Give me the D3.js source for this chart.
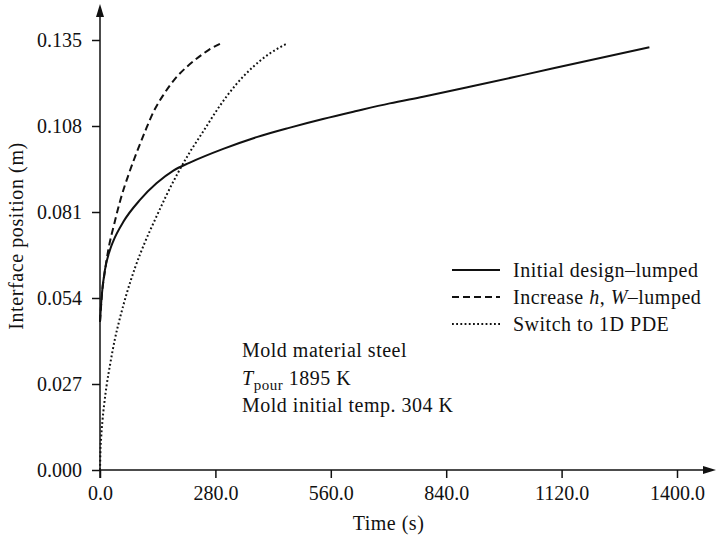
<!DOCTYPE html>
<html>
<head>
<meta charset="utf-8">
<script src="https://cdn.jsdelivr.net/npm/d3@7"></script>
<style>
  body { margin: 0; background: #fff; }
  svg text { font-family: "Liberation Serif", "Times New Roman", serif; fill: #111; }
</style>
</head>
<body>
<svg id="chart" width="717" height="539"></svg>
<script>
// Time (s) and interface position (m)
const timeLumped   = [0, 4, 12, 24, 32, 57, 97, 137, 178, 218, 299, 380, 461, 541, 622, 703, 784, 897, 1100, 1333]
const posLumped    = [0.0465, 0.0544, 0.0628, 0.069, 0.0718, 0.078, 0.0848, 0.090, 0.094, 0.0965, 0.1008, 0.1045, 0.1075, 0.1102, 0.1127, 0.1151, 0.1172, 0.1203, 0.1261, 0.1327]

const timeIncrease = [0, 5, 12, 20, 35, 50, 70, 90, 110, 130, 155, 180, 210, 240, 265, 291]
const posIncrease  = [0.0465, 0.0555, 0.0625, 0.069, 0.0775, 0.085, 0.093, 0.100, 0.1065, 0.1125, 0.118, 0.1225, 0.1265, 0.1297, 0.132, 0.1338]

const timePDE      = [0, 1, 3, 6, 10, 16, 25, 36, 50, 65, 85, 109, 135, 161, 190, 218, 250, 290, 330, 370, 410, 451]
const posPDE       = [0, 0.0055, 0.0105, 0.0155, 0.0205, 0.0265, 0.0335, 0.041, 0.0485, 0.0555, 0.0635, 0.0715, 0.079, 0.0862, 0.0935, 0.0998, 0.1062, 0.1142, 0.121, 0.1264, 0.1306, 0.1337]

const xTicks = [0, 280, 560, 840, 1120, 1400]
const yTicks = [0, 0.027, 0.054, 0.081, 0.108, 0.135]

const seriesNames = ["Initial design\u2013lumped", "Increase h, W\u2013lumped", "Switch to 1D PDE"]
const noteLines   = ["Mold material steel", "T pour 1895 K", "Mold initial temp. 304 K"]

const svg = d3.select("#chart")

const x = d3.scaleLinear().domain([0, 1400]).range([100, 677])
const y = d3.scaleLinear().domain([0, 0.135]).range([470, 40])

// axes: ticks from d3, axis lines drawn by hand so they can run out to the arrows
const xAxis = svg.append("g")
	.attr("transform", "translate(0,470)")
	.call(d3.axisBottom(x).tickValues(xTicks).tickFormat(d3.format(".1f")).tickSize(8).tickPadding(8))
xAxis.select(".domain").remove()
xAxis.selectAll("line").attr("stroke", "#111").attr("stroke-width", 1.5)
xAxis.selectAll("text").style("font-size", "20px").attr("fill", "#111")

const yAxis = svg.append("g")
	.attr("transform", "translate(100,0)")
	.call(d3.axisLeft(y).tickValues(yTicks).tickFormat(d3.format(".3f")).tickSize(8).tickPadding(10))
yAxis.select(".domain").remove()
yAxis.selectAll("line").attr("stroke", "#111").attr("stroke-width", 1.5)
yAxis.selectAll("text").style("font-size", "20px").attr("fill", "#111")

svg.append("line").attr("x1", 100).attr("x2", 706).attr("y1", 470).attr("y2", 470)
	.attr("stroke", "#111").attr("stroke-width", 1.5)
svg.append("line").attr("x1", 100).attr("x2", 100).attr("y1", 478).attr("y2", 16)
	.attr("stroke", "#111").attr("stroke-width", 1.5)
svg.append("path").attr("d", "M716,470 L703,466 L703,474 Z").attr("fill", "#111")
svg.append("path").attr("d", "M100,4 L96,17 L104,17 Z").attr("fill", "#111")

// axis titles
svg.append("text")
	.attr("x", 388.5).attr("y", 530)
	.attr("text-anchor", "middle")
	.style("font-size", "20px").style("letter-spacing", "0.5px")
	.text("Time (s)")

svg.append("text")
	.attr("transform", "translate(23,236) rotate(-90)")
	.attr("text-anchor", "middle")
	.style("font-size", "20px").style("letter-spacing", "0.6px")
	.text("Interface position (m)")

// curves
const line = d3.line()
	.x(d => x(d[0]))
	.y(d => y(d[1]))
	.curve(d3.curveMonotoneX)

const series = [
	{t: timeLumped,   v: posLumped,   dash: null},
	{t: timeIncrease, v: posIncrease, dash: "7,4"},
	{t: timePDE,      v: posPDE,      dash: "1.8,2.4"}
]

series.forEach(s => {
	svg.append("path")
		.datum(d3.zip(s.t, s.v))
		.attr("d", line)
		.attr("fill", "none")
		.attr("stroke", "#111")
		.attr("stroke-width", 2)
		.attr("stroke-dasharray", s.dash)
})

// legend
const legend = svg.append("g")
const rowY = [270, 297, 324]
series.forEach((s, i) => {
	legend.append("line")
		.attr("x1", 452).attr("x2", 500)
		.attr("y1", rowY[i]).attr("y2", rowY[i])
		.attr("stroke", "#111").attr("stroke-width", 2)
		.attr("stroke-dasharray", s.dash)
})
legend.append("text").attr("x", 513).attr("y", rowY[0] + 7)
	.style("font-size", "20px").style("letter-spacing", "0.5px")
	.text(seriesNames[0])
const leg2 = legend.append("text").attr("x", 513).attr("y", rowY[1] + 7)
	.style("font-size", "20px").style("letter-spacing", "0.5px")
leg2.append("tspan").text("Increase ")
leg2.append("tspan").style("font-style", "italic").text("h")
leg2.append("tspan").text(", ")
leg2.append("tspan").style("font-style", "italic").text("W")
leg2.append("tspan").text("\u2013lumped")
legend.append("text").attr("x", 513).attr("y", rowY[2] + 7)
	.style("font-size", "20px").style("letter-spacing", "0.5px")
	.text(seriesNames[2])

// annotation block
const noteY = [357, 385, 412]
svg.append("text").attr("x", 242).attr("y", noteY[0])
	.style("font-size", "20px").style("letter-spacing", "0.5px")
	.text(noteLines[0])
const tp = svg.append("text").attr("x", 242).attr("y", noteY[1])
	.style("font-size", "20px").style("letter-spacing", "0.5px")
tp.append("tspan").style("font-style", "italic").text("T")
tp.append("tspan").attr("dy", 5).style("font-size", "15px").text("pour")
tp.append("tspan").attr("dy", -5).text(" 1895 K")
svg.append("text").attr("x", 242).attr("y", noteY[2])
	.style("font-size", "20px").style("letter-spacing", "0.5px")
	.text(noteLines[2])
</script>
</body>
</html>
